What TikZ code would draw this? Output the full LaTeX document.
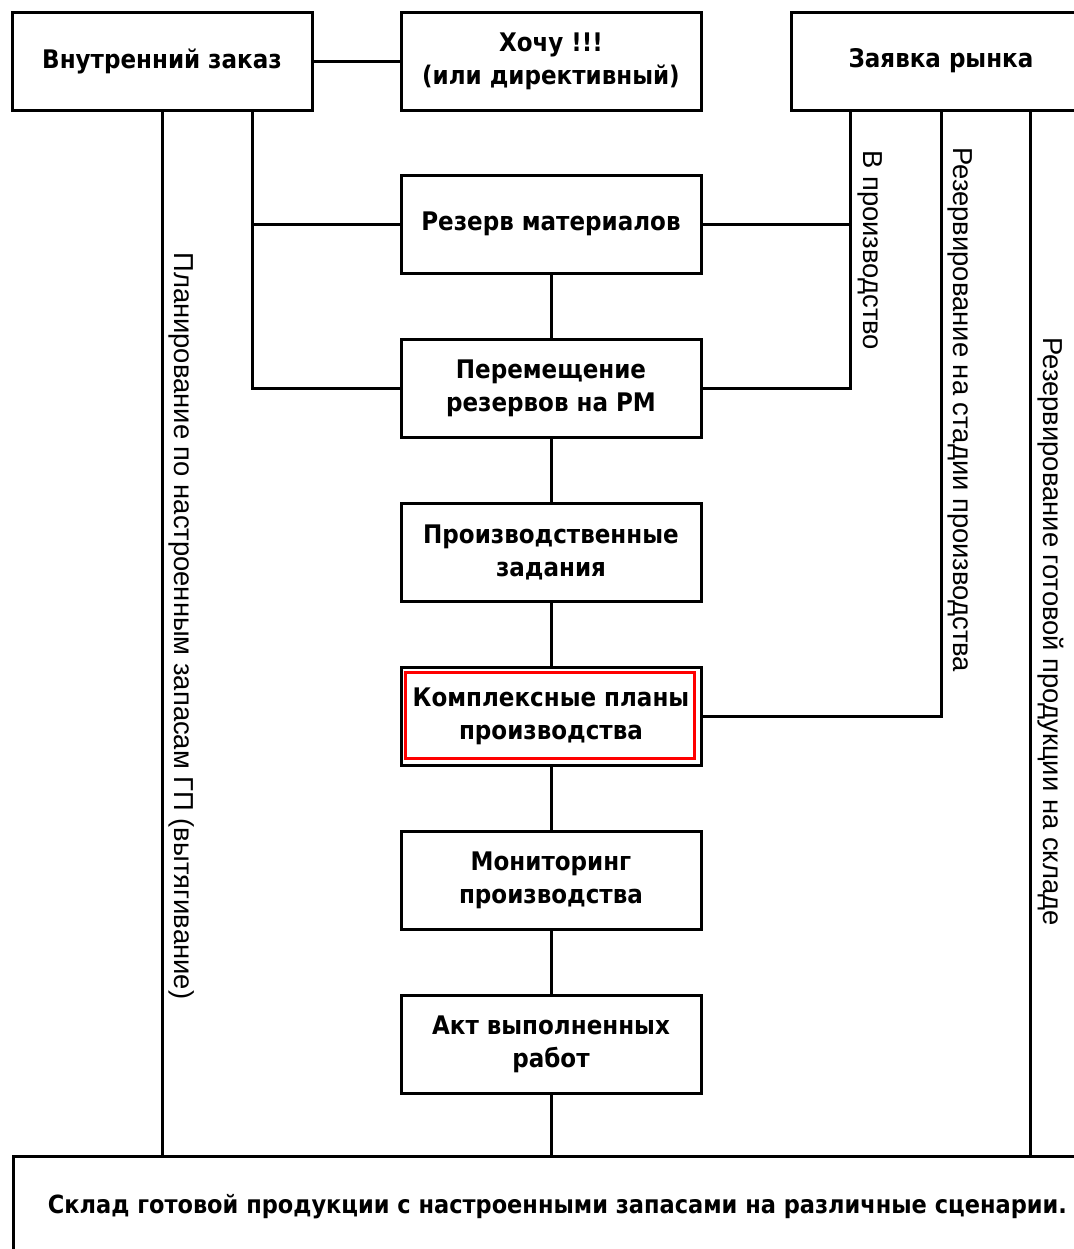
\documentclass[tikz,border=0pt]{standalone}
\usepackage{fontspec}
\setmainfont{Liberation Sans}
\newfontfamily\boxfont{DejaVu Sans Condensed}
\usepackage{tikz}
\usetikzlibrary{positioning}

\tikzset{
	blok/.style={draw, line width=1.5pt, fill=white, minimum width=150pt, minimum height=49pt,
		align=center, font=\boxfont\bfseries\fontsize{12.8}{16.5}\selectfont},
	podpis/.style={rotate=-90, anchor=south west, inner sep=1pt, font=\fontsize{13.7}{15}\selectfont},
	svyaz/.style={line width=1.5pt}
}

\begin{document}
\begin{tikzpicture}[x=0.5pt, y=-0.5pt, node distance=31.5pt]
	\useasboundingbox (0,0) rectangle (1073,1249);

	\node[blok] (vz) at (162,61) {Внутренний заказ};
	\node[blok] (hochu) at (551,61) {Хочу !!!\\(или директивный)};
	\node[blok] (zr) at (941,61) {Заявка рынка};

	\node[blok] (rezerv) at (551,224) {Резерв материалов};
	\node[blok, below=of rezerv] (perem) {Перемещение\\резервов на РМ};
	\node[blok, below=of perem] (zadan) {Производственные\\задания};
	\node[blok, below=of zadan] (kompl) {Комплексные планы\\производства};
	\node[blok, below=of kompl] (monit) {Мониторинг\\производства};
	\node[blok, below=of monit] (akt) {Акт выполненных\\работ};

	\node[blok, anchor=north west, minimum width=544pt, minimum height=50pt,
		font=\boxfont\bfseries\fontsize{12.5}{14}\selectfont] (sklad) at (12,1155)
		{Склад готовой продукции с настроенными запасами на различные сценарии.};

	\coordinate (jl) at (252,0);
	\coordinate (jr) at (850,0);
	\coordinate (jg) at (1030,0);

	% red frame
	\draw[red, line width=1.5pt] ([shift={(6,7)}]kompl.north west) rectangle ([shift={(-8,-8)}]kompl.south east);

	\draw[svyaz] (vz) -- (hochu);
	\draw[svyaz] (rezerv) -- (perem);
	\draw[svyaz] (perem) -- (zadan);
	\draw[svyaz] (zadan) -- (kompl);
	\draw[svyaz] (kompl) -- (monit);
	\draw[svyaz] (monit) -- (akt);
	\draw[svyaz] (akt) -- (sklad.north -| akt);

	\draw[svyaz] (vz.south) -- (sklad.north -| vz.south);
	\draw[svyaz] (vz.south -| jl) -- (perem.west -| jl) -- (perem.west);
	\draw[svyaz] (rezerv.west -| jl) -- (rezerv.west);

	\draw[svyaz] (zr.south -| jr) -- (perem.east -| jr) -- (perem.east);
	\draw[svyaz] (rezerv.east -| jr) -- (rezerv.east);
	\draw[svyaz] (zr.south) -- (kompl.east -| zr.south) -- (kompl.east);
	\draw[svyaz] (zr.south -| jg) -- (sklad.north -| jg);

	\node[podpis] (plan) at (166,250) {Планирование по настроенным запасам ГП (вытягивание)};
	\node[podpis] (vpr) at (855,148) {В производство};
	\node[podpis] (rst) at (945,145) {Резервирование на стадии производства};
	\node[podpis] (rgp) at (1035,335) {Резервирование готовой продукции на складе};

\end{tikzpicture}
\end{document}
